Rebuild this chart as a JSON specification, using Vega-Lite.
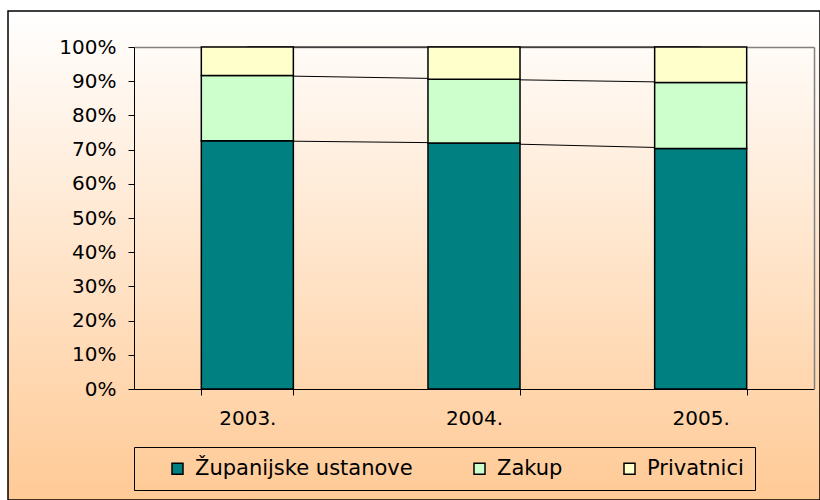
{
  "$schema": "https://vega.github.io/schema/vega-lite/v6.json",
  "width": 812,
  "height": 489,
  "autosize": {"type": "none"},
  "padding": {"left": 8, "top": 11, "right": 0, "bottom": 0},
  "background": "#ffffff",
  "config": {
    "font": "DejaVu Sans",
    "view": {
      "stroke": "#000000",
      "strokeWidth": 1.5,
      "fill": {"gradient": "linear", "x1": 0, "y1": 0, "x2": 0, "y2": 1, "stops": [{"offset": 0, "color": "#ffffff"}, {"offset": 1, "color": "#ffca96"}]}
    },
    "axis": {"labelFont": "DejaVu Sans", "labelFontSize": 20, "labelColor": "#000000", "grid": false, "title": null}
  },
  "data": {
    "values": [
      {"year": "2003.", "series": "Županijske ustanove", "o": 1, "v": 72.6},
      {"year": "2003.", "series": "Zakup", "o": 2, "v": 19.1},
      {"year": "2003.", "series": "Privatnici", "o": 3, "v": 8.3},
      {"year": "2004.", "series": "Županijske ustanove", "o": 1, "v": 71.9},
      {"year": "2004.", "series": "Zakup", "o": 2, "v": 18.7},
      {"year": "2004.", "series": "Privatnici", "o": 3, "v": 9.4},
      {"year": "2005.", "series": "Županijske ustanove", "o": 1, "v": 70.3},
      {"year": "2005.", "series": "Zakup", "o": 2, "v": 19.3},
      {"year": "2005.", "series": "Privatnici", "o": 3, "v": 10.4}
    ]
  },
  "transform": [
    {"stack": "v", "groupby": ["year"], "sort": [{"field": "o", "order": "ascending"}], "offset": "normalize", "as": ["v0", "v1"]}
  ],
  "layer": [
    {
      "mark": {"type": "line", "color": "#000000", "strokeWidth": 1},
      "encoding": {
        "x": {
          "field": "year", "type": "nominal",
          "scale": {"range": [126, 806], "paddingInner": 0.594, "paddingOuter": 0.297},
          "axis": {"orient": "top", "offset": -36, "labels": false, "ticks": false, "domainColor": "#808080", "domainWidth": 1.5, "title": null}
        },
        "y": {
          "field": "v1", "type": "quantitative",
          "scale": {"domain": [0, 1], "range": [378, 36], "nice": false, "zero": true},
          "axis": {"orient": "right", "offset": -6, "labels": false, "ticks": false, "domainColor": "#808080", "domainWidth": 1.5, "title": null}
        },
        "detail": {"field": "series", "type": "nominal"}
      }
    },
    {
      "mark": {"type": "bar", "stroke": "#000000", "strokeWidth": 1.5},
      "encoding": {
        "x": {
          "field": "year", "type": "nominal",
          "axis": {"orient": "bottom", "offset": -111, "tickBand": "extent", "tickSize": 6, "tickColor": "#000000", "domainColor": "#000000", "labelPadding": 13, "labelAngle": 0, "title": null}
        },
        "y": {
          "field": "v0", "type": "quantitative",
          "axis": {"orient": "left", "offset": -126, "values": [0, 0.1, 0.2, 0.3, 0.4, 0.5, 0.6, 0.7, 0.8, 0.9, 1], "format": ".0%", "tickSize": 6, "tickColor": "#000000", "domainColor": "#000000", "labelPadding": 12, "title": null}
        },
        "y2": {"field": "v1"},
        "color": {
          "field": "series", "type": "nominal",
          "scale": {"domain": ["Županijske ustanove", "Zakup", "Privatnici"], "range": ["#008080", "#ccffcc", "#ffffcc"]},
          "legend": {
            "orient": "none", "legendX": 126, "legendY": 436, "direction": "horizontal", "title": null,
            "strokeColor": "#000000", "padding": 11, "columnPadding": 34,
            "labelFontSize": 21, "labelFont": "DejaVu Sans", "labelColor": "#000000", "labelLimit": 0,
            "symbolType": "square", "symbolSize": 121, "symbolStrokeColor": "#000000", "symbolStrokeWidth": 1.5,
            "symbolOffset": 22, "labelOffset": 7,
            "labelExpr": "datum.label == 'Privatnici' ? 'Privatnici\u00a0\u00a0' : datum.label"
          }
        }
      }
    }
  ],
  "resolve": {"axis": {"x": "independent", "y": "independent"}}
}
